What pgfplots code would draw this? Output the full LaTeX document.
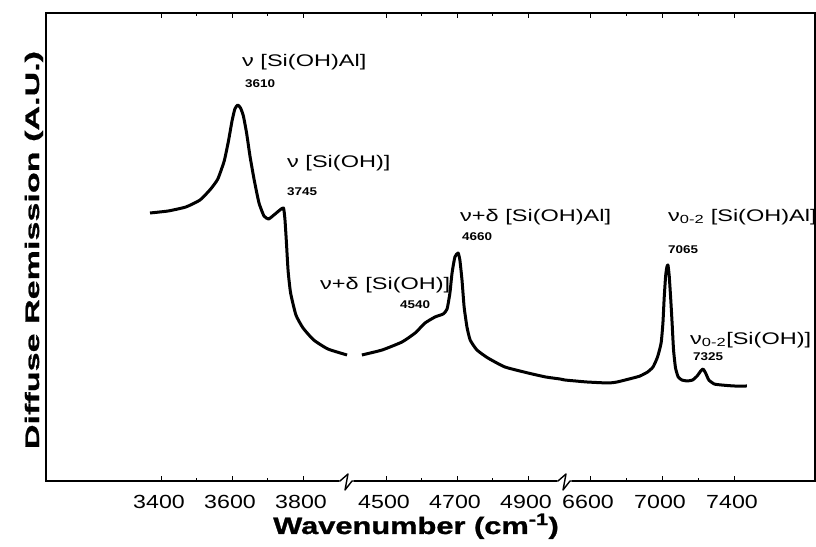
\documentclass[border=0pt]{standalone}
\usepackage{fontspec}
\setmainfont{Liberation Sans}
\newfontfamily\tickfont[FakeStretch=1.22]{Liberation Sans}
\newfontfamily\notefont[FakeStretch=1.4]{Liberation Sans}
\newfontfamily\numfont[FakeStretch=1.2]{Liberation Sans}
\newfontfamily\xlabfont[FakeStretch=1.3,BoldFeatures={FakeBold=1.2}]{Liberation Sans}
\newfontfamily\ylabfont[FakeStretch=1.75,BoldFeatures={FakeBold=1.2}]{Liberation Sans}
\usepackage{pgfplots}
\usepackage{pgfplotstable}
\pgfplotsset{compat=1.18}

% OH stretching region, 3369--3924 cm^-1
\pgfplotstableread{
wn    r
3369  268
3420  270
3470  274
3510  281
3540  292
3560  302
3578  320
3590  340
3600  360
3608  372
3616  376
3624  373
3632  365
3641  348
3651  324
3663  300
3676  278
3690  265
3703  262
3718  266
3735  271
3745  273
3749  262
3753  240
3758  210
3765  188
3780  166
3800  153
3830  141
3870  132
3924  126
}\stretchband

% combination and overtone region, 4432--7472 cm^-1
\pgfplotstableread{
wn    r
4432  126
4489  131
4545  139
4582  148
4610  158
4638  164
4661  167
4672  172
4680  188
4686  208
4694  224
4703  228
4708  221
4714  201
4720  174
4728  154
4737  141
4756  131
4787  123
4835  114
4900  108
4950  104
4990  102
6460  101
6520  100
6583  99
6700  98
6750  99
6839  103
6878  105
6920  109
6950  114
6975  124
6995  138
7005  158
7012  183
7020  205
7027  214
7033  216
7040  205
7048  183
7056  158
7064  131
7075  113
7090  104
7110  101
7140  100
7170  101
7195  105
7215  110
7228  112
7242  108
7260  101
7290  97
7330  96
7400  95
7472  95
}\overtoneband

\begin{document}
\begin{tikzpicture}[x=1bp,y=1bp]
\useasboundingbox (0,0) rectangle (816,547);
\begin{axis}[
  at={(46,66)}, anchor=south west,
  width=769bp, height=468bp, scale only axis,
  % broken wavenumber axis: three linear pieces
  x coord trafo/.code={\pgfmathparse{#1<4200 ? 161+0.355*(#1-3400) : (#1<6000 ? 386+0.355*(#1-4500) : 590+0.18*(#1-6600))}},
  xmin=3076, xmax=7850, ymin=0, ymax=468,
  xtick={3400,3600,3800,4500,4700,4900,6600,7000,7400},
  xticklabels={3400,3600,3800,4500,4700,4900,6600,7000,7400},
  minor xtick={3500,3700,4600,4800,6800,7200},
  ytick=\empty,
  tick align=inside, major tick length=5bp, minor tick length=3bp,
  axis line style={line width=1.6bp},
  every tick/.style={black, line width=1bp},
  xticklabel style={font=\tickfont\fontsize{19bp}{19bp}\selectfont, anchor=center, yshift=-21bp, xshift=-2bp},
]
\addplot[black, line width=3bp, line join=round, smooth, tension=0.3] table[x=wn, y=r] {\stretchband};
\addplot[black, line width=3bp, line join=round, smooth, tension=0.3] table[x=wn, y=r] {\overtoneband};
\end{axis}

% axis breaks
\fill[white] (339,63) rectangle (354,69);
\draw[line width=1.4bp, line join=round] (336,66) -- (340,66) -- (348,73) -- (345,57) -- (352,66) -- (356,66);
\fill[white] (557,63) rectangle (572,69);
\draw[line width=1.4bp, line join=round] (554,66) -- (558,66) -- (566,73) -- (563,57) -- (570,66) -- (574,66);

% band assignments
\tikzset{note/.style={anchor=west, inner sep=0pt, font=\notefont\fontsize{16.8bp}{17bp}\selectfont},
         num/.style={anchor=west, inner sep=0pt, font=\numfont\bfseries\fontsize{11.2bp}{12bp}\selectfont}}
\node[note] at (242,485) {ν [Si(OH)Al]};
\node[num]  at (245,463) {3610};
\node[note] at (287,384) {ν [Si(OH)]};
\node[num]  at (287,355) {3745};
\node[note] at (320,262) {ν+δ [Si(OH)]};
\node[num]  at (400,242) {4540};
\node[note] at (460,330) {ν+δ [Si(OH)Al]};
\node[num]  at (462,310) {4660};
\node[note] at (668,330) {ν\textsubscript{0-2} [Si(OH)Al]};
\node[num]  at (668,297) {7065};
\node[note] at (690,207) {ν\textsubscript{0-2}[Si(OH)]};
\node[num]  at (693,190) {7325};

% axis titles
\node[anchor=base, font=\xlabfont\bfseries\fontsize{23.7bp}{24bp}\selectfont] at (416,13) {Wavenumber (cm\textsuperscript{-1})};
\node[rotate=90, anchor=base, font=\ylabfont\bfseries\fontsize{19.5bp}{20bp}\selectfont] at (39,297) {Diffuse Remission (A.U.)};
\end{tikzpicture}
\end{document}
